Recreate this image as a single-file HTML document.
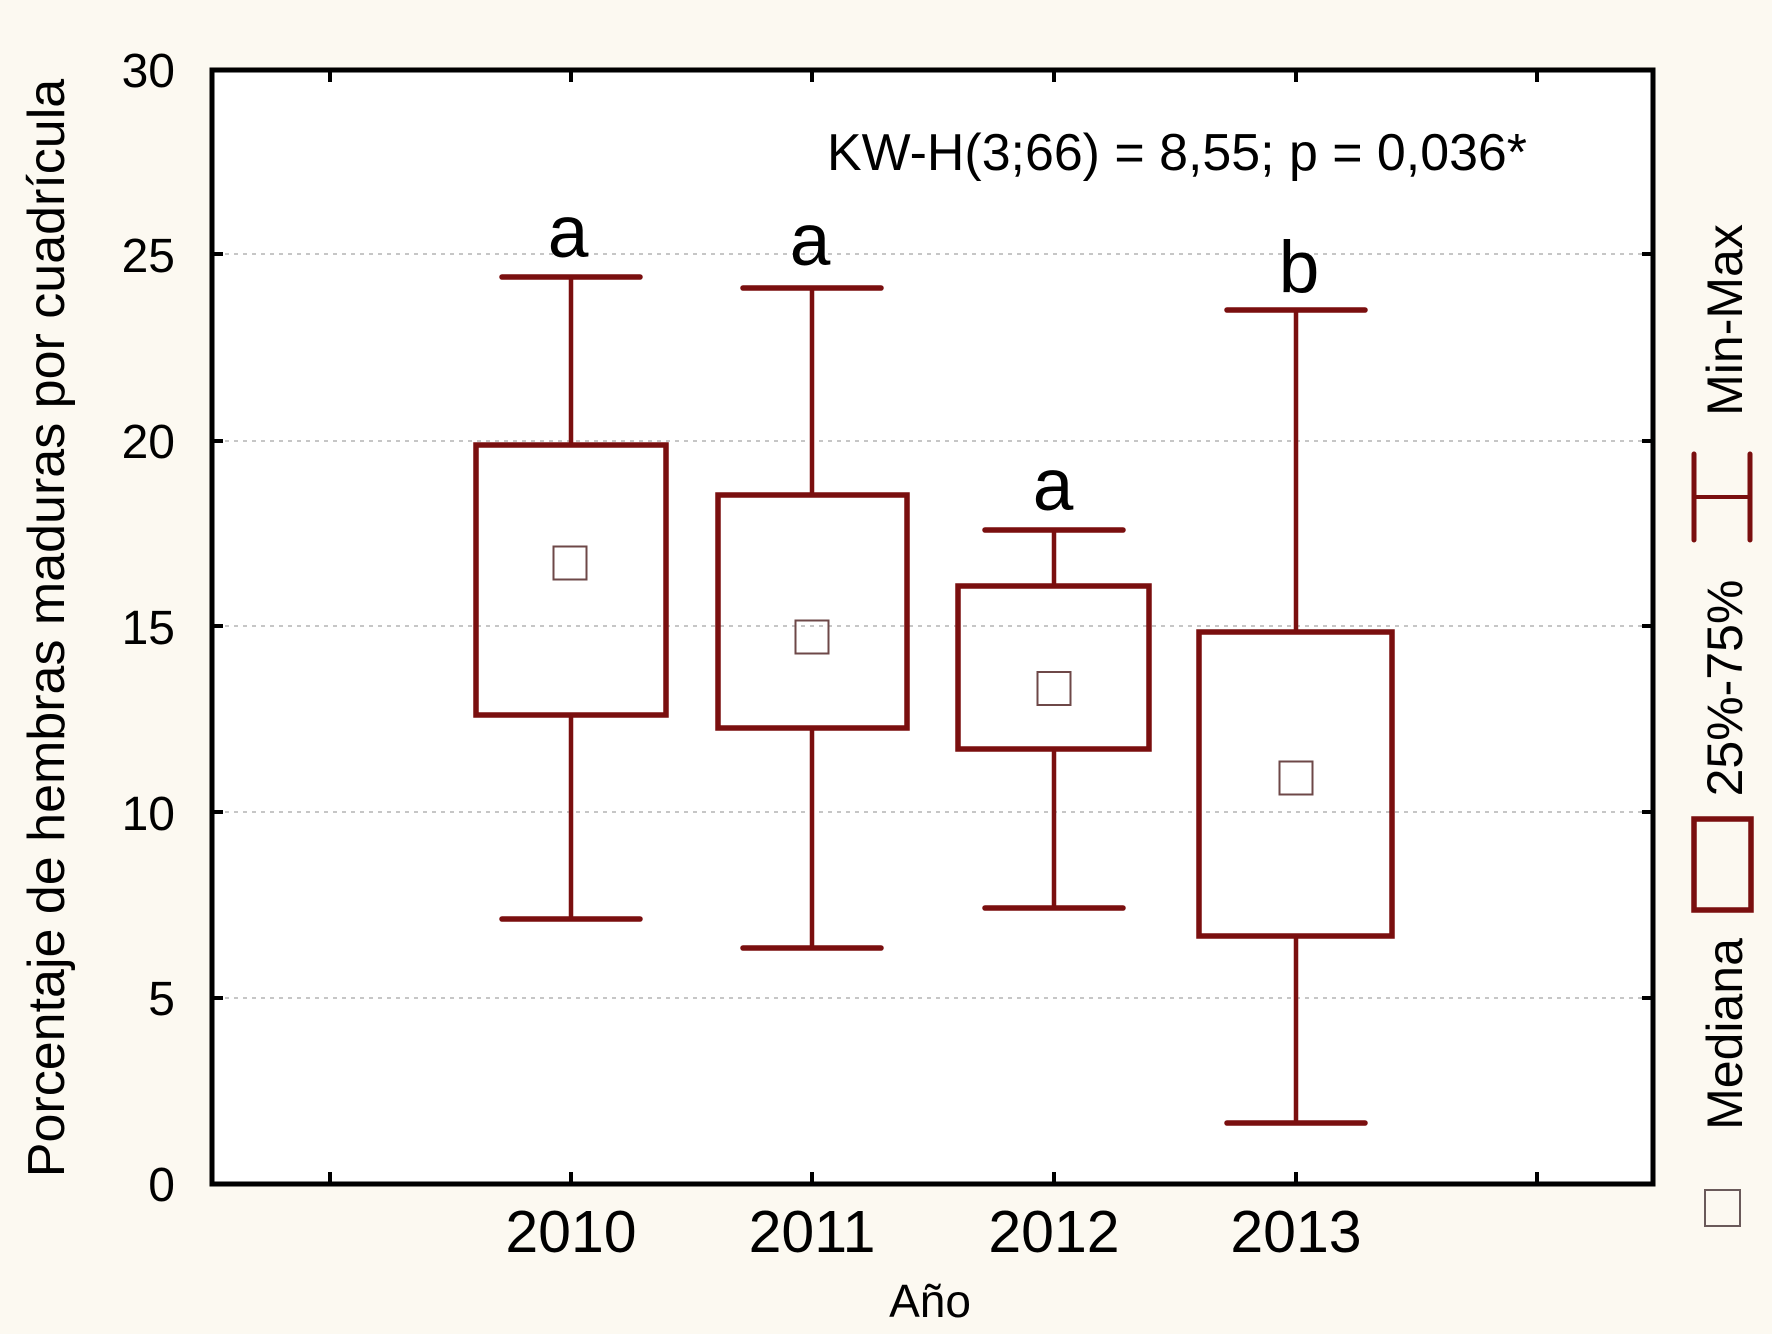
<!DOCTYPE html>
<html>
<head>
<meta charset="utf-8">
<style>
  html, body { margin:0; padding:0; background:#fcf9f1; }
  body { width:1772px; height:1334px; overflow:hidden; }
  svg { display:block; }
  text { font-family: "Liberation Sans", Arial, sans-serif; fill:#000; }
</style>
</head>
<body>
<svg width="1772" height="1334" viewBox="0 0 1772 1334" xmlns="http://www.w3.org/2000/svg">
  <rect x="0" y="0" width="1772" height="1334" fill="#fcf9f1"/>

  <!-- plot area -->
  <rect x="212" y="70" width="1441" height="1114" fill="#ffffff"/>

  <!-- grid lines -->
  <g stroke="#c6c6c6" stroke-width="2" stroke-dasharray="4 5">
    <line x1="216" y1="254" x2="1649" y2="254"/>
    <line x1="216" y1="441" x2="1649" y2="441"/>
    <line x1="216" y1="626" x2="1649" y2="626"/>
    <line x1="216" y1="812" x2="1649" y2="812"/>
    <line x1="216" y1="998" x2="1649" y2="998"/>
  </g>

  <!-- ticks -->
  <g stroke="#000" stroke-width="4">
    <line x1="212" y1="254" x2="223" y2="254"/>
    <line x1="212" y1="441" x2="223" y2="441"/>
    <line x1="212" y1="626" x2="223" y2="626"/>
    <line x1="212" y1="812" x2="223" y2="812"/>
    <line x1="212" y1="998" x2="223" y2="998"/>
    <line x1="1653" y1="254" x2="1642" y2="254"/>
    <line x1="1653" y1="441" x2="1642" y2="441"/>
    <line x1="1653" y1="626" x2="1642" y2="626"/>
    <line x1="1653" y1="812" x2="1642" y2="812"/>
    <line x1="1653" y1="998" x2="1642" y2="998"/>
    <line x1="330" y1="1184" x2="330" y2="1172"/>
    <line x1="571" y1="1184" x2="571" y2="1172"/>
    <line x1="812" y1="1184" x2="812" y2="1172"/>
    <line x1="1054" y1="1184" x2="1054" y2="1172"/>
    <line x1="1296" y1="1184" x2="1296" y2="1172"/>
    <line x1="1537" y1="1184" x2="1537" y2="1172"/>
    <line x1="330" y1="70" x2="330" y2="82"/>
    <line x1="571" y1="70" x2="571" y2="82"/>
    <line x1="812" y1="70" x2="812" y2="82"/>
    <line x1="1054" y1="70" x2="1054" y2="82"/>
    <line x1="1296" y1="70" x2="1296" y2="82"/>
    <line x1="1537" y1="70" x2="1537" y2="82"/>
  </g>

  <!-- boxes -->
  <g stroke="#7a0f0f" fill="none" stroke-linecap="round">
    <!-- 2010 -->
    <line x1="571" y1="277" x2="571" y2="445" stroke-width="4.5"/>
    <line x1="571" y1="715" x2="571" y2="919" stroke-width="4.5"/>
    <line x1="502" y1="277" x2="640" y2="277" stroke-width="5.5"/>
    <line x1="502" y1="919" x2="640" y2="919" stroke-width="5.5"/>
    <rect x="476" y="445" width="190" height="270" stroke-width="5.5"/>
    <!-- 2011 -->
    <line x1="812" y1="288" x2="812" y2="495" stroke-width="4.5"/>
    <line x1="812" y1="728" x2="812" y2="948" stroke-width="4.5"/>
    <line x1="743" y1="288" x2="881" y2="288" stroke-width="5.5"/>
    <line x1="743" y1="948" x2="881" y2="948" stroke-width="5.5"/>
    <rect x="718" y="495" width="189" height="233" stroke-width="5.5"/>
    <!-- 2012 -->
    <line x1="1054" y1="530" x2="1054" y2="586" stroke-width="4.5"/>
    <line x1="1054" y1="749" x2="1054" y2="908" stroke-width="4.5"/>
    <line x1="985" y1="530" x2="1123" y2="530" stroke-width="5.5"/>
    <line x1="985" y1="908" x2="1123" y2="908" stroke-width="5.5"/>
    <rect x="958" y="586" width="191" height="163" stroke-width="5.5"/>
    <!-- 2013 -->
    <line x1="1296" y1="310" x2="1296" y2="632" stroke-width="4.5"/>
    <line x1="1296" y1="936" x2="1296" y2="1123" stroke-width="4.5"/>
    <line x1="1227" y1="310" x2="1365" y2="310" stroke-width="5.5"/>
    <line x1="1227" y1="1123" x2="1365" y2="1123" stroke-width="5.5"/>
    <rect x="1199" y="632" width="193" height="304" stroke-width="5.5"/>
  </g>

  <!-- medians -->
  <g stroke="#6e4848" stroke-width="2" fill="none">
    <rect x="553.5" y="546.5" width="33" height="33"/>
    <rect x="795.5" y="620.5" width="33" height="33"/>
    <rect x="1037.5" y="672" width="33" height="33"/>
    <rect x="1279.5" y="761.5" width="33" height="33"/>
  </g>

  <!-- axes frame -->
  <rect x="212" y="70" width="1441" height="1114" fill="none" stroke="#000" stroke-width="5"/>

  <!-- y tick labels -->
  <g font-size="48" text-anchor="end">
    <text x="175" y="87">30</text>
    <text x="175" y="272">25</text>
    <text x="175" y="458">20</text>
    <text x="175" y="644">15</text>
    <text x="175" y="830">10</text>
    <text x="175" y="1015">5</text>
    <text x="175" y="1201">0</text>
  </g>

  <!-- x tick labels -->
  <g font-size="59" text-anchor="middle">
    <text x="571" y="1252">2010</text>
    <text x="812" y="1252">2011</text>
    <text x="1054" y="1252">2012</text>
    <text x="1296" y="1252">2013</text>
  </g>

  <!-- axis titles -->
  <text x="930" y="1317" font-size="46" text-anchor="middle">Año</text>
  <text transform="translate(64,628) rotate(-90)" font-size="52" text-anchor="middle">Porcentaje de hembras maduras por cuadrícula</text>

  <!-- stat text -->
  <text x="827" y="170" font-size="52" textLength="700" lengthAdjust="spacingAndGlyphs">KW-H(3;66) = 8,55; p = 0,036*</text>

  <!-- letters -->
  <g font-size="73" text-anchor="middle">
    <text x="568" y="257">a</text>
    <text x="810" y="265">a</text>
    <text x="1053" y="510">a</text>
    <text x="1299" y="292">b</text>
  </g>

  <!-- legend -->
  <g font-size="50" text-anchor="middle">
    <text transform="translate(1742,320) rotate(-90)">Min-Max</text>
    <text transform="translate(1742,688) rotate(-90)">25%-75%</text>
    <text transform="translate(1742,1034) rotate(-90)">Mediana</text>
  </g>
  <g stroke="#7a0f0f" fill="none" stroke-linecap="round">
    <line x1="1694" y1="454" x2="1694" y2="540" stroke-width="5"/>
    <line x1="1750" y1="454" x2="1750" y2="540" stroke-width="5"/>
    <line x1="1694" y1="497" x2="1750" y2="497" stroke-width="4"/>
    <rect x="1694" y="819" width="57" height="91" stroke-width="5.5"/>
  </g>
  <rect x="1705" y="1190" width="35" height="36" fill="none" stroke="#6a5a5a" stroke-width="2"/>
</svg>
</body>
</html>
